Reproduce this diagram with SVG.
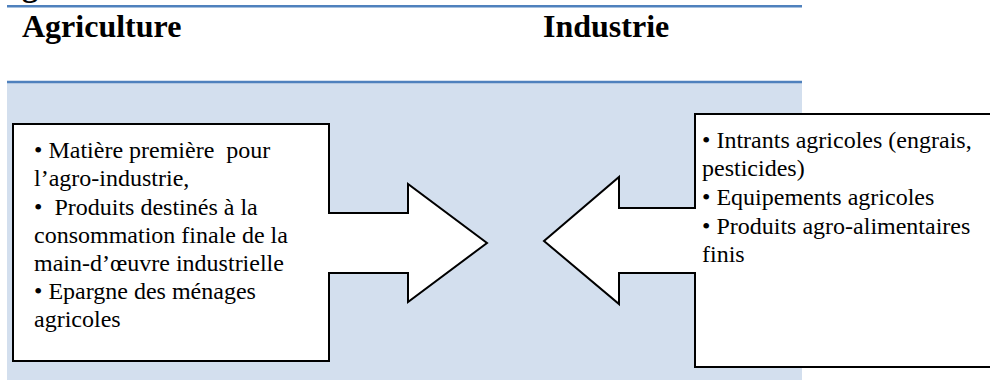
<svg xmlns="http://www.w3.org/2000/svg" width="990" height="380" viewBox="0 0 990 380">
<style>
.h{font-family:'Liberation Serif','Tinos','Times New Roman','DejaVu Serif',serif;font-weight:bold;font-size:32px;fill:#000}
.t{font-family:'Liberation Serif','Tinos','Times New Roman','DejaVu Serif',serif;font-size:24px;fill:#000;white-space:pre}
.shape{fill:#fff;stroke:#000;stroke-width:2;stroke-linejoin:miter}
</style>
<rect width="990" height="380" fill="#fff"/>
<text class="h" x="22" y="-4">g</text>
<line x1="7" y1="6.2" x2="802" y2="6.2" stroke="#4f81bd" stroke-width="2.5"/>
<text class="h" x="22" y="37">Agriculture</text>
<text class="h" x="543" y="37">Industrie</text>
<rect x="7" y="82" width="795" height="298" fill="#d3dfee"/>
<line x1="7" y1="82" x2="802" y2="82" stroke="#4f81bd" stroke-width="2.5"/>
<g id="agriculture">
<path class="shape" d="M13,124 H329 V213 H408 V184 L487,243 L408,302 V273 H329 V361 H13 Z"/>
<text class="t" xml:space="preserve"><tspan x="34" y="158">• Matière première  pour</tspan><tspan x="34" y="186">l’agro-industrie,</tspan><tspan x="34" y="215">•  Produits destinés à la</tspan><tspan x="34" y="243">consommation finale de la</tspan><tspan x="34" y="271">main-d’œuvre industrielle</tspan><tspan x="34" y="299">• Epargne des ménages</tspan><tspan x="34" y="327">agricoles</tspan></text>
</g>
<g id="industrie">
<path class="shape" d="M996,114 H695 V208 H619 V177 L544,241 L619,304 V273 H695 V367 H996 Z"/>
<text class="t" xml:space="preserve"><tspan x="702" y="148">• Intrants agricoles (engrais,</tspan><tspan x="702" y="176">pesticides)</tspan><tspan x="702" y="205">• Equipements agricoles</tspan><tspan x="702" y="234">• Produits agro-alimentaires</tspan><tspan x="702" y="262">finis</tspan></text>
</g>
<g id="connectors"></g>
</svg>
